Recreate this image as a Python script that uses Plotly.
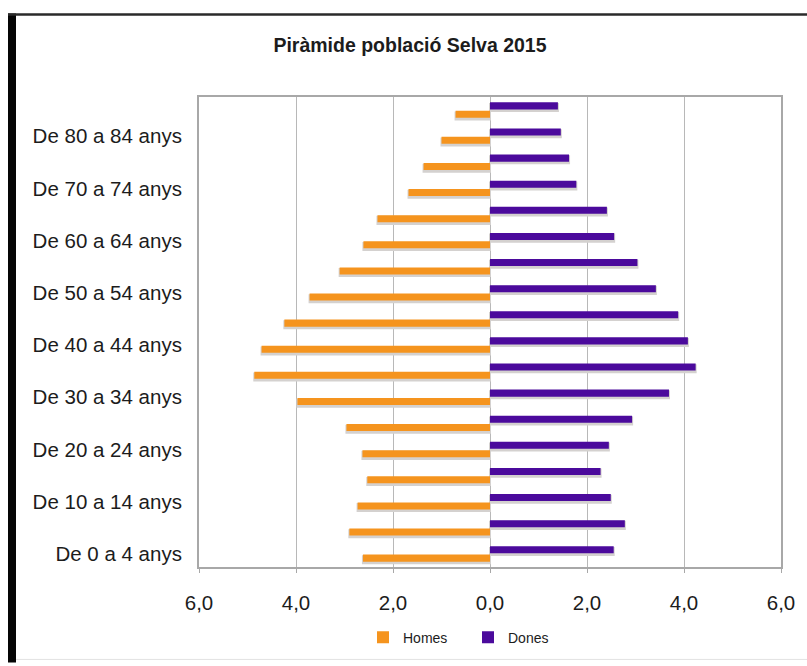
import plotly.graph_objects as go

# Age groups, youngest first (bottom of the pyramid)
grups_edat = [
    "De 0 a 4 anys", "De 5 a 9 anys", "De 10 a 14 anys", "De 15 a 19 anys",
    "De 20 a 24 anys", "De 25 a 29 anys", "De 30 a 34 anys", "De 35 a 39 anys",
    "De 40 a 44 anys", "De 45 a 49 anys", "De 50 a 54 anys", "De 55 a 59 anys",
    "De 60 a 64 anys", "De 65 a 69 anys", "De 70 a 74 anys", "De 75 a 79 anys",
    "De 80 a 84 anys", "De 85 anys i més",
]

# Share of total population (%) by sex
homes = [2.62, 2.90, 2.73, 2.53, 2.63, 2.96, 3.97, 4.86, 4.71, 4.24,
         3.72, 3.10, 2.61, 2.32, 1.68, 1.37, 1.00, 0.71]
dones = [2.55, 2.78, 2.49, 2.28, 2.45, 2.93, 3.69, 4.24, 4.08, 3.88,
         3.42, 3.04, 2.56, 2.41, 1.78, 1.63, 1.46, 1.40]

# Axis ticks (absolute values shown on both sides)
x_ticks = [-6, -4, -2, 0, 2, 4, 6]
x_tick_text = ["6,0", "4,0", "2,0", "0,0", "2,0", "4,0", "6,0"]
y_ticks = grups_edat[::2][:9]

ORANGE = "#F5941E"
PURPLE = "#4B0A9C"
SHADOW = "#d4d1cf"

BAR_W = 0.27
SHIFT = 0.065  # drop shadow offset, in category units

homes_neg = [-v for v in homes]

fig = go.Figure()

# soft drop shadows under each bar
fig.add_trace(go.Bar(
    y=grups_edat, x=homes_neg, orientation="h", width=BAR_W,
    offset=-0.16 - BAR_W / 2 - SHIFT,
    marker=dict(color=SHADOW, line=dict(color=SHADOW, width=2)),
    showlegend=False, hoverinfo="skip",
))
fig.add_trace(go.Bar(
    y=grups_edat, x=dones, orientation="h", width=BAR_W,
    offset=0.16 - BAR_W / 2 - SHIFT,
    marker=dict(color=SHADOW, line=dict(color=SHADOW, width=2)),
    showlegend=False, hoverinfo="skip",
))

# main bars
fig.add_trace(go.Bar(
    name="Homes", y=grups_edat, x=homes_neg, orientation="h", width=BAR_W,
    offset=-0.16 - BAR_W / 2,
    marker=dict(color=ORANGE, line=dict(width=0)),
    customdata=homes,
    hovertemplate="%{y}: %{customdata:.2f}<extra>Homes</extra>",
))
fig.add_trace(go.Bar(
    name="Dones", y=grups_edat, x=dones, orientation="h", width=BAR_W,
    offset=0.16 - BAR_W / 2,
    marker=dict(color=PURPLE, line=dict(width=0)),
    hovertemplate="%{y}: %{x:.2f}<extra>Dones</extra>",
))

W, H = 807, 666
ML, MR, MT, MB = 199, 26, 97, 96
PW, PH = W - ML - MR, H - MT - MB


def px_x(p):
    return (p - ML) / PW


def px_y(p):
    return (H - MB - p) / PH


fig.update_layout(
    width=W, height=H,
    margin=dict(l=ML, r=MR, t=MT, b=MB),
    paper_bgcolor="white", plot_bgcolor="white",
    barmode="overlay",
    font=dict(family="Liberation Sans, Arial, sans-serif", color="#1c1c1c"),
    title=dict(
        text="<b>Piràmide població Selva 2015</b>",
        x=410 / W, xanchor="center", y=1 - 45 / H, yanchor="middle",
        font=dict(size=19.5, color="#1c1c1c"),
    ),
    xaxis=dict(
        range=[-6, 6], tickmode="array", tickvals=x_ticks, ticktext=x_tick_text,
        showgrid=True, gridcolor="#b8b8b8", gridwidth=1, zeroline=False,
        showline=True, linecolor="#a8a8a8", linewidth=2, mirror=True,
        ticks="outside", ticklen=4, tickcolor="#a8a8a8", tickwidth=1,
        ticklabelstandoff=12,
        tickfont=dict(size=20.5, color="#1c1c1c"),
        fixedrange=True,
    ),
    yaxis=dict(
        type="category", categoryorder="array", categoryarray=grups_edat,
        range=[-0.5, len(grups_edat) - 0.5],
        tickmode="array", tickvals=y_ticks, ticktext=y_ticks,
        showgrid=False, zeroline=False,
        showline=True, linecolor="#a8a8a8", linewidth=2, mirror=True,
        ticks="", ticklabelstandoff=11,
        tickfont=dict(size=20.5, color="#1c1c1c"),
        fixedrange=True,
    ),
    legend=dict(
        orientation="h", x=px_x(363), xanchor="left",
        y=px_y(641), yanchor="middle",
        font=dict(size=14, color="#1c1c1c"),
        itemwidth=30, entrywidth=60, entrywidthmode="pixels",
        bgcolor="rgba(0,0,0,0)",
        traceorder="normal",
    ),
    shapes=[
        # outer frame: heavy left edge, dark top rule, faint bottom rule
        dict(type="rect", xref="paper", yref="paper",
             x0=px_x(8), x1=px_x(16), y0=px_y(666), y1=px_y(13),
             fillcolor="#050505", line=dict(width=0), layer="above"),
        dict(type="line", xref="paper", yref="paper",
             x0=px_x(8), x1=px_x(807), y0=px_y(14), y1=px_y(14),
             line=dict(color="#2a2a2a", width=2.5), layer="above"),
        dict(type="line", xref="paper", yref="paper",
             x0=px_x(16), x1=px_x(807), y0=px_y(663), y1=px_y(663),
             line=dict(color="#e2e2e2", width=1), layer="above"),
    ],
)

fig.write_html("out.html")
